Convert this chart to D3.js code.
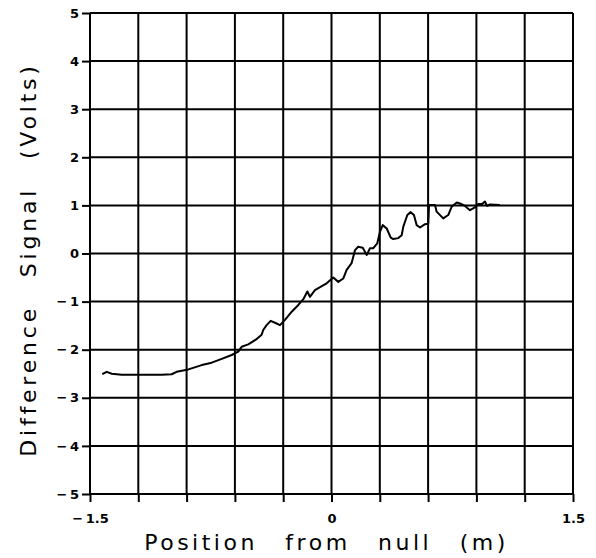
<!DOCTYPE html>
<html>
<head>
<meta charset="utf-8">
<script src="https://cdn.jsdelivr.net/npm/d3@7"></script>
<style>
  body { margin: 0; background: #fff; }
  svg { display: block; }
  text { fill: #000; }
</style>
</head>
<body>
<svg id="chart"></svg>
<script>
// data: position (m) vs difference signal (V)
const positions = [-1.424, -1.396, -1.365, -1.303, -1.179, -1.055, -0.993, -0.962, -0.889, -0.806,
  -0.744, -0.682, -0.620, -0.579, -0.558, -0.517, -0.465, -0.434, -0.424, -0.403,
  -0.378, -0.351, -0.320, -0.289, -0.247, -0.206, -0.175, -0.150, -0.134, -0.103,
  -0.071, -0.030, 0.011, 0.042, 0.073, 0.094, 0.125, 0.146, 0.166, 0.194,
  0.219, 0.239, 0.260, 0.284, 0.301, 0.318, 0.343, 0.368, 0.384, 0.415,
  0.436, 0.446, 0.471, 0.492, 0.512, 0.529, 0.550, 0.581, 0.601, 0.606,
  0.643, 0.653, 0.694, 0.725, 0.746, 0.778, 0.798, 0.829, 0.860, 0.891,
  0.912, 0.935, 0.953, 0.966, 0.984, 1.046];
const signal = [-2.51, -2.46, -2.50, -2.52, -2.52, -2.52, -2.51, -2.46, -2.41, -2.32,
  -2.27, -2.19, -2.11, -2.04, -1.94, -1.89, -1.78, -1.69, -1.59, -1.49,
  -1.40, -1.44, -1.49, -1.38, -1.21, -1.07, -0.95, -0.79, -0.90, -0.76,
  -0.70, -0.62, -0.50, -0.59, -0.52, -0.34, -0.20, 0.07, 0.14, 0.12,
  -0.03, 0.11, 0.11, 0.21, 0.45, 0.59, 0.52, 0.33, 0.30, 0.32,
  0.38, 0.56, 0.80, 0.86, 0.80, 0.59, 0.54, 0.61, 0.62, 1.01,
  1.01, 0.87, 0.73, 0.80, 0.97, 1.06, 1.04, 0.99, 0.90, 0.96,
  1.03, 1.03, 1.08, 0.99, 1.02, 1.01];

const xTicks = [-1.5, -1.2, -0.9, -0.6, -0.3, 0, 0.3, 0.6, 0.9, 1.2, 1.5];
const xTickLabels = ["\u2212\u20091.5", "", "", "", "", "0", "", "", "", "", "1.5"];
const yTicks = [-5, -4, -3, -2, -1, 0, 1, 2, 3, 4, 5];
const yTickLabels = ["\u2212\u20095", "\u2212\u20094", "\u2212\u20093", "\u2212\u20092", "\u2212\u20091", "0", "1", "2", "3", "4", "5"];

const margin = { top: 13, right: 23, bottom: 64, left: 90 },
      width = 596 - margin.left - margin.right,
      height = 558 - margin.top - margin.bottom;

const svg = d3.select("#chart")
              .attr("width", 596)
              .attr("height", 558)
              .append("g")
              .attr("transform", `translate(${margin.left},${margin.top})`);

const xScale = d3.scaleLinear().domain([-1.5, 1.5]).range([0, width]);
const yScale = d3.scaleLinear().domain([-5, 5]).range([height, 0]);

// grid
svg.append("g").selectAll("line").data(xTicks).join("line")
   .attr("x1", d => xScale(d)).attr("x2", d => xScale(d))
   .attr("y1", 0).attr("y2", height)
   .attr("stroke", "#000").attr("stroke-width", 2);
svg.append("g").selectAll("line").data(yTicks).join("line")
   .attr("x1", 0).attr("x2", width)
   .attr("y1", d => yScale(d)).attr("y2", d => yScale(d))
   .attr("stroke", "#000").attr("stroke-width", 2);

// axes
const xAxis = svg.append("g")
   .attr("transform", `translate(0,${height})`)
   .call(d3.axisBottom(xScale).tickValues(xTicks).tickSize(8).tickPadding(12)
         .tickFormat((d, i) => xTickLabels[i]));
const yAxis = svg.append("g")
   .call(d3.axisLeft(yScale).tickValues(yTicks).tickSize(8).tickPadding(3)
         .tickFormat((d, i) => yTickLabels[i]));

[xAxis, yAxis].forEach(a => {
  a.select(".domain").remove();
  a.selectAll(".tick line").attr("stroke", "#000").attr("stroke-width", 2);
  a.selectAll(".tick text")
   .attr("font-family", "'DejaVu Sans', sans-serif")
   .attr("font-size", 13).attr("font-weight", "bold").attr("fill", "#000");
});

// signal trace
const pts = positions.map((p, i) => [p, signal[i]]);
svg.append("path")
   .datum(pts)
   .attr("fill", "none")
   .attr("stroke", "#000")
   .attr("stroke-width", 2)
   .attr("stroke-linejoin", "round")
   .attr("d", d3.line().x(d => xScale(d[0])).y(d => yScale(d[1])));

// titles
svg.append("text")
   .attr("x", width / 2 - 5).attr("y", height + 56)
   .attr("text-anchor", "middle")
   .attr("font-family", "'DejaVu Sans', sans-serif")
   .attr("font-size", 22).attr("letter-spacing", 3.5).attr("word-spacing", 17)
   .text("Position from null (m)");

svg.append("text")
   .attr("transform", `translate(${-54},${height / 2 + 6}) rotate(-90)`)
   .attr("text-anchor", "middle")
   .attr("font-family", "'DejaVu Sans', sans-serif")
   .attr("font-size", 22).attr("letter-spacing", 3.8).attr("word-spacing", 17)
   .text("Difference Signal (Volts)");
</script>
</body>
</html>
